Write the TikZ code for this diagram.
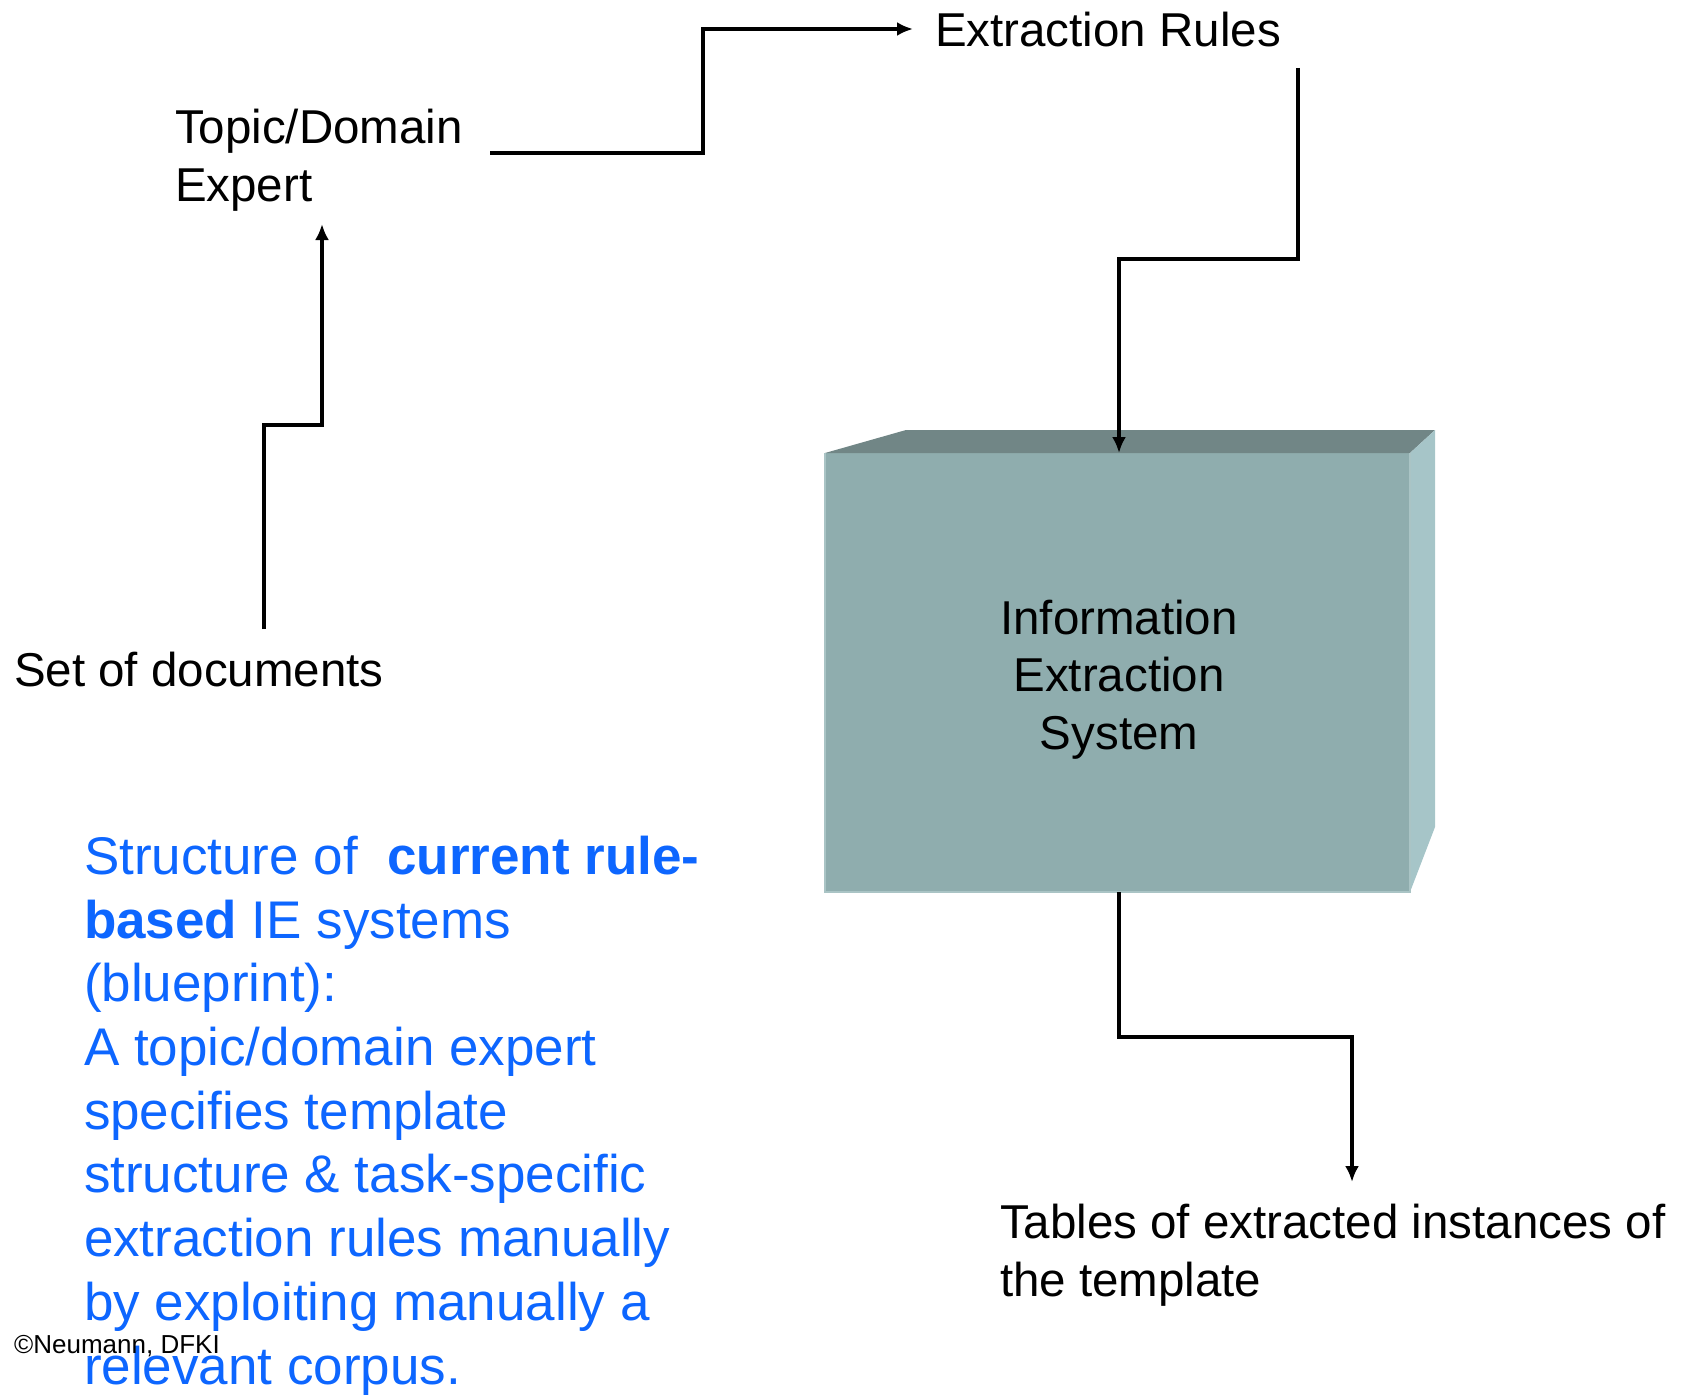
\documentclass[tikz,border=0pt]{standalone}
\usepackage{fontspec}
\setmainfont{Liberation Sans}
\usetikzlibrary{arrows.meta}
\definecolor{frontc}{RGB}{143,173,174}
\definecolor{topc}{RGB}{113,134,134}
\definecolor{sidec}{RGB}{166,197,200}
\definecolor{edgec}{RGB}{170,196,197}
\definecolor{bluec}{RGB}{13,102,255}
\tikzset{
  lbl/.style={inner sep=0pt, outer sep=0pt, anchor=base west, align=left,
    font=\fontsize{47.5}{57.5}\selectfont, text=black},
  bluetxt/.style={inner sep=0pt, outer sep=0pt, anchor=base west, align=left,
    font=\fontsize{53}{63.7}\selectfont, text=bluec},
  conn/.style={line width=4.8pt, draw=black, line join=miter},
  tip/.style={-{Latex[length=16pt,width=14pt]}},
}
\begin{document}
\begin{tikzpicture}[x=1pt,y=-1pt]
\useasboundingbox (0,0) rectangle (1685,1394);

% 3D box
\node[fill=frontc, minimum width=585pt, minimum height=439pt, inner sep=0pt,
      outer sep=0pt, anchor=north west] (iebox) at (825,453) {};
\fill[topc] (iebox.north west) -- (906,430) -- (1435,430) -- (iebox.north east) -- cycle;
\fill[sidec] (iebox.north east) -- (1435,430) -- (1435,827) -- (iebox.south east) -- cycle;
\draw[edgec, line width=1.5pt] (iebox.north west) -- (iebox.south west) -- (iebox.south east) -- (iebox.north east);
% base anchor of a multi-line node = baseline of its last line
\node[inner sep=0pt, anchor=base, align=center,
      font=\fontsize{47.5}{57.5}\selectfont] (ietext) at (1119,749)
      {Information\\Extraction\\System};

% labels
\node[lbl] (rules) at (935,47) {Extraction Rules};
\node[lbl] (expert) at (175,201) {Topic/Domain\\Expert};
\node[lbl] (docs) at (14,686) {Set of documents};
\node[lbl] (tables) at (1000,1296) {Tables of extracted instances of\\the template};

% connector end points
\coordinate (docsout) at (264,629);
\coordinate (expertin) at (322,224);
\coordinate (expertout) at (490,153);
\coordinate (rulesin) at (913,29);
\coordinate (rulesout) at (1298,68);
\coordinate (boxin) at (1119,453);
\coordinate (boxout) at (1119,892);
\coordinate (tablesin) at (1352,1182);

% connectors
\draw[conn, tip] (docsout) |- (322,425) -- (expertin);
\draw[conn, tip] (expertout) -- (703,153) |- (rulesin);
\draw[conn, tip] (rulesout) |- (1119,259) -- (boxin);
\draw[conn, tip] (boxout) |- (1352,1037) -- (tablesin);

% explanation
\node[bluetxt] (expl) at (84,1384)
  {Structure of \ \textbf{current rule-}\\
   \textbf{based} IE systems\\
   (blueprint):\\
   A topic/domain expert\\
   specifies template\\
   structure \& task-specific\\
   extraction rules manually\\
   by exploiting manually a\\
   relevant corpus.};

\node[inner sep=0pt, anchor=base west, font=\fontsize{26}{30}\selectfont] (copy) at (14,1353)
  {©Neumann, DFKI};
\end{tikzpicture}
\end{document}
